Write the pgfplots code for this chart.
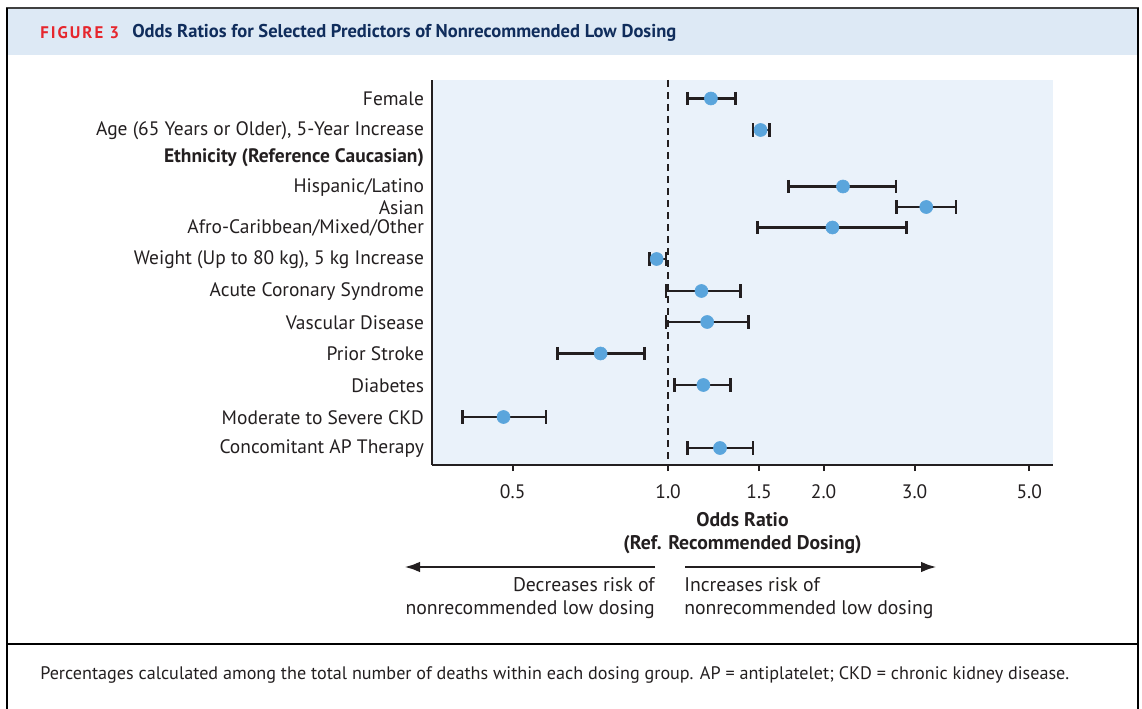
\documentclass[border=0pt]{standalone}
\usepackage{fontspec}
\setmainfont{PT Sans}
\usepackage{pgfplots}
\usepackage{pgfplotstable}
\pgfplotsset{compat=1.18}
\usetikzlibrary{arrows.meta}
\definecolor{bgblue}{HTML}{EAF2FA}
\definecolor{bandblue}{HTML}{DDE9F5}
\definecolor{dotblue}{HTML}{5AA5DC}
\definecolor{figred}{HTML}{E6262D}
\definecolor{navy}{HTML}{102D5C}
\definecolor{ink}{HTML}{231F20}

% y = minus pixel row of each predictor; or = odds ratio; lo/hi = 95% CI
\pgfplotstableread{
y      or    lo    hi
-98.5  1.21  1.09  1.35
-130   1.51  1.46  1.57
-186.5 2.18  1.71  2.76
-207   3.16  2.77  3.61
-227.5 2.08  1.49  2.89
-259   0.95  0.92  0.99
-291   1.16  0.99  1.38
-322   1.19  0.99  1.43
-353.5 0.74  0.61  0.90
-385   1.17  1.03  1.32
-417   0.48  0.40  0.58
-448   1.26  1.09  1.46
}\ordata

\begin{document}
\begin{tikzpicture}
\begin{scope}[x=0.75pt,y=-0.75pt]
\useasboundingbox (0,0) rectangle (1142,709);
\fill[bandblue] (8,9) rectangle (1137,55);
\draw[black!75, line width=1.5pt] (6,8) -- (1139,8);
\draw[black, line width=1.8pt] (7,8) -- (7,712);
\draw[black, line width=1.8pt] (1138,8) -- (1138,712);
\draw[black, line width=1.2pt] (7,644) -- (1138,644);
\node[anchor=west, inner sep=0pt, text=figred,
  font=\fontsize{12.6}{14}\selectfont\bfseries\addfontfeatures{LetterSpace=12}] at (40,33) {FIGURE 3};
\node[anchor=west, inner sep=0pt, text=navy,
  font=\fontsize{13.9}{16}\selectfont\bfseries] at (132,33) {Odds Ratios for Selected Predictors of Nonrecommended Low Dosing};
% direction arrows
\draw[ink, line width=2.2pt, -{Latex[length=12pt,width=8pt]}] (655,567) -- (404,567);
\draw[ink, line width=2.2pt, -{Latex[length=12pt,width=8pt]}] (685,567) -- (937,567);
\node[anchor=north east, inner sep=0pt, align=right, text=ink,
  font=\fontsize{14.8}{17.25}\selectfont] at (655,577) {Decreases risk of\\nonrecommended low dosing};
\node[anchor=north west, inner sep=0pt, align=left, text=ink,
  font=\fontsize{14.8}{17.25}\selectfont] at (684,577) {Increases risk of\\nonrecommended low dosing};
\node[anchor=west, inner sep=0pt, text=ink, font=\fontsize{13.6}{15}\selectfont] at (40,675)
  {Percentages calculated among the total number of deaths within each dosing group. AP = antiplatelet; CKD = chronic kidney disease.};
\end{scope}

\begin{axis}[
  at={(324pt,-348.75pt)}, anchor=south west,
  scale only axis, width=465.75pt, height=288.75pt,
  xmode=log, xmin=0.349, xmax=5.56,
  ymin=-465, ymax=-80,
  axis x line*=bottom, axis y line*=left,
  axis line style={ink, line width=1.8pt, -},
  axis background/.style={fill=bgblue},
  xtick={0.5,1,1.5,2,3,5},
  xticklabels={0.5,1.0,1.5,2.0,3.0,5.0},
  minor xtick={},
  tick align=outside,
  x tick style={ink, line width=1.5pt},
  major tick length=4.5pt,
  ytick={-98.5,-130,-157.5,-186.5,-207,-227.5,-259,-291,-322,-353.5,-385,-417,-448},
  yticklabels={Female,{Age (65 Years or Older), 5-Year Increase},\textbf{Ethnicity (Reference Caucasian)},Hispanic/Latino,Asian,Afro-Caribbean/Mixed/Other,{Weight (Up to 80 kg), 5 kg Increase},Acute Coronary Syndrome,Vascular Disease,Prior Stroke,Diabetes,Moderate to Severe CKD,Concomitant AP Therapy},
  y tick style={draw=none},
  ticklabel style={font=\fontsize{14.6}{16}\selectfont, text=ink},
  yticklabel style={xshift=2pt, yshift=-0.5pt},
  xticklabel style={yshift=-7pt},
  /pgf/number format/assume math mode=true,
  xlabel={Odds Ratio\\(Ref. Recommended Dosing)},
  xlabel style={align=center, font=\fontsize{14.8}{17.25}\selectfont\bfseries, text=ink, yshift=-3pt},
  clip=false,
]
\addplot[ink, line width=1.5pt, dash pattern=on 5.25pt off 3.75pt] coordinates {(1,-80) (1,-465)};
\pgfplotsset{ci/.style={ink, line width=2.1pt, mark=|, mark size=5pt, mark options={solid, line width=2pt}}}
\addplot[ci] coordinates {(1.09,-98.5) (1.35,-98.5)};
\addplot[ci] coordinates {(1.46,-130) (1.57,-130)};
\addplot[ci] coordinates {(1.71,-186.5) (2.76,-186.5)};
\addplot[ci] coordinates {(2.77,-207) (3.61,-207)};
\addplot[ci] coordinates {(1.49,-227.5) (2.89,-227.5)};
\addplot[ci] coordinates {(0.92,-259) (0.99,-259)};
\addplot[ci] coordinates {(0.99,-291) (1.38,-291)};
\addplot[ci] coordinates {(0.99,-322) (1.43,-322)};
\addplot[ci] coordinates {(0.61,-353.5) (0.90,-353.5)};
\addplot[ci] coordinates {(1.03,-385) (1.32,-385)};
\addplot[ci] coordinates {(0.40,-417) (0.58,-417)};
\addplot[ci] coordinates {(1.09,-448) (1.46,-448)};
\addplot[only marks, mark=*, mark size=4.9pt, mark options={draw=dotblue, fill=dotblue}] table[x=or, y=y] {\ordata};
\end{axis}
\end{tikzpicture}
\end{document}
